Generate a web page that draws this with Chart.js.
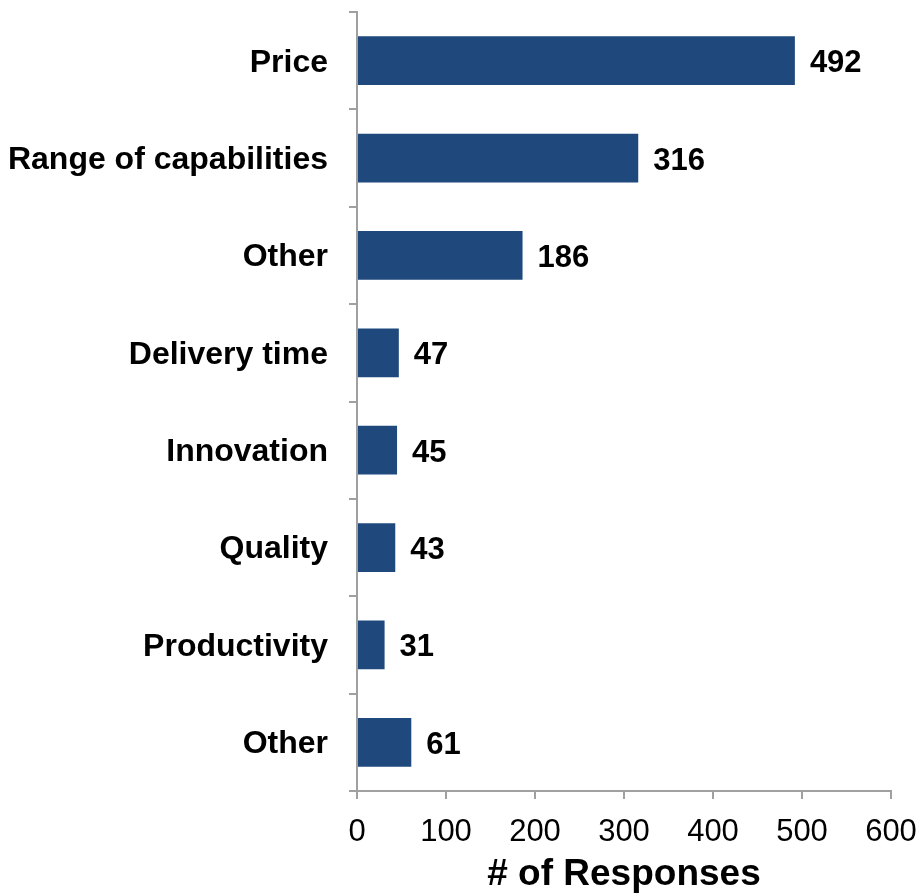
<!DOCTYPE html>
<html>
<head>
<meta charset="utf-8">
<title># of Responses</title>
<script src="https://cdn.jsdelivr.net/npm/chart.js@4/dist/chart.umd.min.js"></script>
<style>
  html, body { margin: 0; padding: 0; background: #fff; }
  #wrap { width: 920px; height: 895px; }
</style>
</head>
<body>
<div id="wrap"><canvas id="responses-chart" width="920" height="895"></canvas></div>
<script>
/* chart data */
let categories = ['Price', 'Range of capabilities', 'Other', 'Delivery time', 'Innovation', 'Quality', 'Productivity', 'Other']
let responses = [492, 316, 186, 47, 45, 43, 31, 61]
let xTicks = [0, 100, 200, 300, 400, 500, 600]

let barColor = '#1f497d'
let axisColor = '#a0a0a0'
let fontFamily = '"Liberation Sans", Arial, sans-serif'

// write the count just past the end of each bar
let valueLabels = {
    id: 'valueLabels',
    afterDatasetsDraw(chart) {
        let ctx = chart.ctx
        let meta = chart.getDatasetMeta(0)
        ctx.save()
        ctx.font = 'bold 31px ' + fontFamily
        ctx.fillStyle = '#000'
        ctx.textAlign = 'left'
        ctx.textBaseline = 'middle'
        meta.data.forEach(function(bar, i) {
            ctx.fillText(String(responses[i]), bar.x + 15, bar.y + 3)
        })
        ctx.restore()
    }
}

let ctx = document.querySelector('#responses-chart').getContext('2d')

let responsesChart = new Chart(ctx, {
    type: 'bar',
    data: {
        labels: categories,
        datasets: [{
            data: responses,
            backgroundColor: barColor,
            borderWidth: 0,
            barPercentage: 0.5,
            categoryPercentage: 1.0
        }]
    },
    options: {
        indexAxis: 'y',
        responsive: false,
        animation: false,
        layout: { padding: { top: 12, right: 29, bottom: 0, left: 0 } },
        plugins: {
            legend: { display: false },
            tooltip: { enabled: false }
        },
        scales: {
            x: {
                min: 0,
                max: 600,
                afterBuildTicks(scale) {
                    scale.ticks = xTicks.map(v => ({ value: v }))
                },
                afterFit(scale) {
                    scale.height = 104
                    scale.paddingLeft = 0
                    scale.paddingRight = 0
                },
                border: { color: axisColor, width: 2 },
                grid: { drawOnChartArea: false, drawTicks: true, tickLength: 8, color: axisColor, lineWidth: 2 },
                ticks: {
                    color: '#000',
                    padding: 15,
                    maxRotation: 0,
                    font: { family: fontFamily, size: 31 }
                },
                title: {
                    display: true,
                    text: '# of Responses',
                    color: '#000',
                    padding: { top: 0, bottom: -2 },
                    font: { family: fontFamily, size: 37, weight: 'bold' }
                }
            },
            y: {
                afterFit(scale) {
                    // fixed label column, no extra room above/below the bars
                    scale.width = 357
                    scale.paddingTop = 0
                    scale.paddingBottom = 0
                },
                border: { color: axisColor, width: 2 },
                grid: { drawOnChartArea: false, drawTicks: true, tickLength: 8, color: axisColor, lineWidth: 2, offset: true },
                ticks: {
                    color: '#000',
                    padding: 21,
                    labelOffset: 2,
                    autoSkip: false,
                    font: { family: fontFamily, size: 32, weight: 'bold' }
                }
            }
        }
    },
    plugins: [valueLabels]
})
</script>
</body>
</html>
